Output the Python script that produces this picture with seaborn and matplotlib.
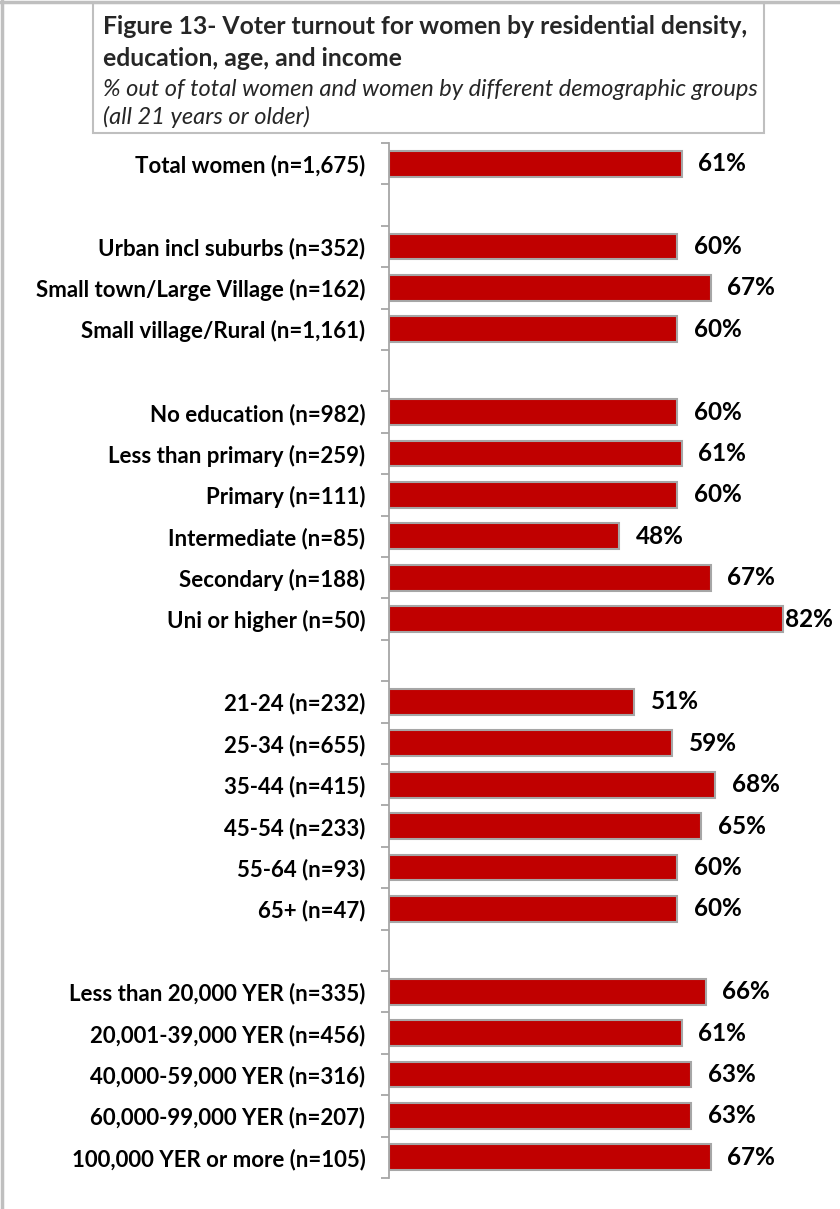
import matplotlib
matplotlib.use("Agg")
import matplotlib.pyplot as plt
import seaborn as sns
import numpy as np
import pandas as pd
from matplotlib.patches import Rectangle
from matplotlib.lines import Line2D
from matplotlib.ticker import FixedLocator

categories = [
    "Total women (n=1,675)", " ",
    "Urban incl suburbs (n=352)", "Small town/Large Village (n=162)", "Small village/Rural (n=1,161)", "  ",
    "No education (n=982)", "Less than primary (n=259)", "Primary (n=111)", "Intermediate (n=85)",
    "Secondary (n=188)", "Uni or higher (n=50)", "   ",
    "21-24 (n=232)", "25-34 (n=655)", "35-44 (n=415)", "45-54 (n=233)", "55-64 (n=93)", "65+ (n=47)", "    ",
    "Less than 20,000 YER (n=335)", "20,001-39,000 YER (n=456)", "40,000-59,000 YER (n=316)",
    "60,000-99,000 YER (n=207)", "100,000 YER or more (n=105)",
]
values = [61, np.nan, 60, 67, 60, np.nan, 60, 61, 60, 48, 67, 82, np.nan,
          51, 59, 68, 65, 60, 60, np.nan, 66, 61, 63, 63, 67]

title_line1 = "Figure 13- Voter turnout for women by residential density,"
title_line2 = "education, age, and income"
subtitle1 = "% out of total women and women by different demographic groups"
subtitle2 = "(all 21 years or older)"

sns.set_theme(style="white")
plt.rcParams["font.family"] = ["Lato", "DejaVu Sans"]

W, H = 840, 1209
fig = plt.figure(figsize=(W / 100, H / 100), dpi=100)

ax_left, ax_right = 389, 821
ax_top, ax_bot = 143, 1178
ax = fig.add_axes([ax_left / W, 1 - ax_bot / H, (ax_right - ax_left) / W, (ax_bot - ax_top) / H])

df = pd.DataFrame({"cat": categories, "val": values})
sns.barplot(data=df.dropna(), x="val", y="cat", order=categories, orient="h",
            color="#C00000", saturation=1, width=0.62, edgecolor="#A6A6A6",
            linewidth=1.5, ax=ax)

ax.set_xlim(0, 90)
ax.set_ylim(len(categories) - 0.5, -0.5)
ax.set_xlabel("")
ax.set_ylabel("")
ax.set_xticks([])
for s in ["top", "right", "bottom"]:
    ax.spines[s].set_visible(False)
ax.spines["left"].set_color("#A6A6A6")
ax.spines["left"].set_linewidth(1.3)

ax.set_yticks(range(len(categories)))
ax.set_yticklabels(categories, fontsize=16, fontweight="bold", color="black")
ax.yaxis.set_minor_locator(FixedLocator(np.arange(-0.5, len(categories), 1)))
ax.tick_params(axis="y", which="major", length=0, pad=17)
ax.tick_params(axis="y", which="minor", length=6, width=1.3, color="#A6A6A6", left=True)

# value labels
for i, v in enumerate(values):
    if np.isnan(v):
        continue
    px_end = ax_left + v / 90 * (ax_right - ax_left)
    off = 12 if px_end < 770 else 1.5
    ax.annotate(f"{int(v)}%", xy=(v, i), xytext=(off, 0), textcoords="offset points",
                va="center", ha="left", fontsize=17.5, fontweight="bold", color="black")

# outer border (top and left)
fig.add_artist(Line2D([1.5 / W, 1.5 / W], [0, 1], color="#BFBFBF", lw=2.5, transform=fig.transFigure))
fig.add_artist(Line2D([0, 1], [1 - 1.5 / H, 1 - 1.5 / H], color="#BFBFBF", lw=2.5, transform=fig.transFigure))

# title box
bx0, bx1, by0, by1 = 93, 764, 3, 133
fig.add_artist(Rectangle((bx0 / W, 1 - by1 / H), (bx1 - bx0) / W, (by1 - by0) / H,
                         transform=fig.transFigure, facecolor="white", edgecolor="#BFBFBF", lw=1.5))
tx = 103 / W
fig.text(tx, 1 - 27 / H, title_line1, fontsize=17.8, fontweight="bold", va="center", ha="left")
fig.text(tx, 1 - 58 / H, title_line2, fontsize=17.8, fontweight="bold", va="center", ha="left")
fig.text(tx, 1 - 89 / H, subtitle1, fontsize=17, fontstyle="italic", va="center", ha="left")
fig.text(tx, 1 - 117 / H, subtitle2, fontsize=17, fontstyle="italic", va="center", ha="left")

fig.savefig("out.png", dpi=100, facecolor="white")
